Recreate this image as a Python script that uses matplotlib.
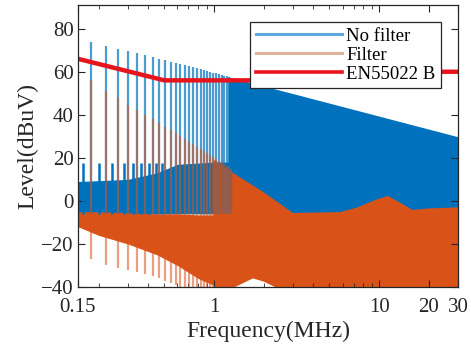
import matplotlib
matplotlib.use("Agg")
import matplotlib.pyplot as plt
from matplotlib.lines import Line2D
from matplotlib.ticker import FixedLocator, NullFormatter
import numpy as np

plt.rcParams['font.family'] = ['Liberation Serif', 'DejaVu Serif']

# harmonic spikes (MHz, dBuV)
harm_f = [0.181, 0.222, 0.263, 0.303, 0.343, 0.383, 0.424, 0.464, 0.505, 0.545,
          0.586, 0.626, 0.667, 0.707, 0.748, 0.788, 0.829, 0.869, 0.910, 0.950,
          0.991, 1.031, 1.072, 1.112, 1.153, 1.193, 1.234, 1.274]
nofilt_peak = [73.6, 71.8, 70.5, 69.6, 68.5, 67.6, 66.8, 66.0, 65.3, 64.7,
               64.1, 63.5, 63.0, 62.5, 62.0, 61.6, 61.1, 60.7, 60.3, 59.9,
               59.5, 59.2, 58.8, 58.5, 58.2, 57.9, 57.6, 57.3]
filt_peak = [56.0, 51.2, 47.6, 44.7, 42.2, 40.0, 38.0, 36.2, 34.4, 32.9,
             31.4, 30.0, 28.7, 27.5, 26.3, 25.2, 24.2, 23.1, 22.2, 21.3,
             20.4, 19.5, 18.7, 17.9, 17.2, 16.4, 15.7, 15.0]
filt_dip = [-27, -30, -31, -32, -33, -34, -35, -36, -37, -38,
            -39, -40, -40, -40, -40, -40, -40, -40, -40, -40,
            -40, -40, -40, -40, -40, -40, -40, -40]

# small blue stubs between the main harmonics
stub_f = [0.161, 0.201, 0.242, 0.283, 0.323, 0.363, 0.404, 0.444, 0.484]
stub_lvl = [17.5, 17.5, 17.5, 17.5, 17.5, 17.5, 17.5, 17.5, 17.5]

# No filter: noise band and dense upper region
nf_band_f = [0.15, 0.3, 0.45, 0.6, 1.0, 1.3]
nf_band_top = [9, 10, 13, 17, 18, 18]
nf_band_bot = [-6, -6, -6, -6, -6, -6]
nf_dense_f = [1.22, 3.2, 30]
nf_dense_top = [57.6, 49.3, 29.8]
nf_dense_bot = [-6, -6, -6]

# Filter: noise band and dense region
fl_band_f = [0.15, 0.2, 0.3, 0.45, 0.6, 0.8, 1.05]
fl_band_top = [-5, -5, -5.5, -6, -6, -6.5, -6.5]
fl_band_bot = [-12, -16, -20, -25, -30, -36, -40]
fl_top_f = [1.0, 1.3, 2.0, 3.0, 5.8, 7.4, 9.5, 11.3, 13.5, 15.9, 20, 30]
fl_top = [19, 13, 4, -5.6, -5.2, -3, 0.5, 2.3, -1, -4.2, -3.5, -3]
fl_bot_f = [1.0, 1.34, 1.72, 2.0, 2.34, 30]
fl_bot = [-40, -40, -36, -37.5, -40, -40]

# EN55022 class B limit
lim_f = [0.15, 0.5, 5, 5, 30]
lim_lvl = [66, 56, 56, 60, 60]

blue = '#0072BD'
orange = '#D95319'
red = '#E8141C'

fig, ax = plt.subplots(figsize=(4.71, 3.55), dpi=100)
fig.subplots_adjust(left=0.1656, right=0.9724, top=0.9859, bottom=0.1915)

# No filter
ax.fill_between(nf_band_f, nf_band_bot, nf_band_top, color=blue, lw=0)
ax.fill_between(nf_dense_f, nf_dense_bot, nf_dense_top, color=blue, lw=0)
ax.vlines(stub_f, -6, stub_lvl, color=blue, lw=1.8)
ax.vlines(harm_f, -6, nofilt_peak, color=blue, lw=1.6, alpha=0.7)

# Filter
ax.fill_between(fl_band_f, fl_band_bot, fl_band_top, color=orange, lw=0)
ax.fill(np.r_[fl_top_f, fl_bot_f[::-1]], np.r_[fl_top, fl_bot[::-1]], color=orange, lw=0)
ax.vlines(harm_f, filt_dip, filt_peak, color=orange, lw=1.6, alpha=0.55)

# limit
ax.plot(lim_f, lim_lvl, color=red, lw=3.2, solid_capstyle='butt')

ax.set_xscale('log')
ax.set_xlim(0.15, 30)
ax.set_ylim(-40, 91)
ax.xaxis.set_major_locator(FixedLocator([0.15, 1, 10, 20, 30]))
ax.set_xticklabels(['0.15', '1', '10', '20', '30'])
ax.xaxis.set_minor_locator(FixedLocator([0.2, 0.3, 0.4, 0.5, 0.6, 0.7, 0.8, 0.9,
                                         2, 3, 4, 5, 6, 7, 8, 9]))
ax.xaxis.set_minor_formatter(NullFormatter())
ax.set_yticks([-40, -20, 0, 20, 40, 60, 80])
ax.tick_params(which='both', direction='in', top=True, right=True,
               color='#262626', labelsize=15, labelcolor='#262626')
ax.tick_params(which='major', length=5, width=0.8)
ax.tick_params(which='minor', length=3, width=0.6)
ax.tick_params(axis='x', pad=8)
ax.tick_params(axis='y', pad=3)
for s in ax.spines.values():
    s.set_color('#262626')
    s.set_linewidth(0.9)

ax.set_xlabel('Frequency(MHz)', fontsize=17, labelpad=3, color='#262626')
ax.set_ylabel('Level(dBuV)', fontsize=17, labelpad=2, color='#262626')

handles = [Line2D([], [], color='#5aa8dc', lw=2.2),
           Line2D([], [], color='#dcb49a', lw=2.2),
           Line2D([], [], color=red, lw=2.6)]
leg = ax.legend(handles, ['No filter', 'Filter', 'EN55022 B'],
                loc='upper right', bbox_to_anchor=(0.955, 0.94), borderaxespad=0,
                fontsize=13.5, handlelength=4.6, handletextpad=0.2,
                labelspacing=0.1, borderpad=0.3, fancybox=False, framealpha=1,
                edgecolor='#262626')
leg.get_frame().set_linewidth(0.9)

fig.savefig('out.png', dpi=100)
